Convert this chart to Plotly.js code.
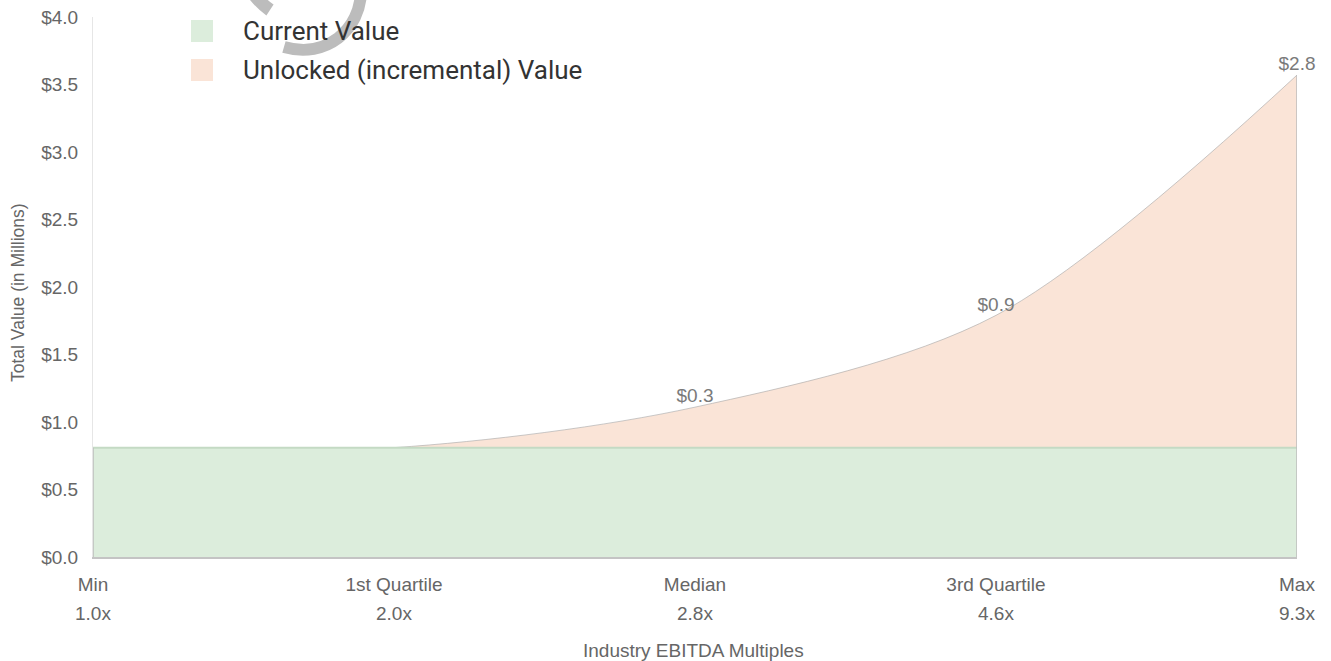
<!DOCTYPE html>
<html>
<head>
<meta charset="utf-8">
<script src="https://cdn.plot.ly/plotly-3.0.1.min.js"></script>
<style>
  html, body { margin: 0; padding: 0; background: #fff; }
  #chart { width: 1331px; height: 661px; }
</style>
</head>
<body>
<div id="chart"></div>
<script>
// ---- data ----
const categories = ['Min', '1st Quartile', 'Median', '3rd Quartile', 'Max'];
const multiples = ['1.0x', '2.0x', '2.8x', '4.6x', '9.3x'];
const currentValue = [0.81, 0.81, 0.81, 0.81, 0.81];
const unlockedValue = [0, 0, 0.30, 0.98, 2.76];
const unlockedLabels = ['', '', '$0.3', '$0.9', '$2.8'];
const seriesNames = ['Current Value', 'Unlocked (incremental) Value'];

// ---- styling ----
const greenFill = 'rgb(220,237,220)';
const orangeFill = 'rgb(250,228,215)';
const tickFont = 'Arial, "Liberation Sans", sans-serif';
const L = 93, R = 1297, T = 17, B = 557;
const px = x => (x - L) / (R - L);
const py = y => (B - y) / (B - T);

const total = currentValue.map((v, i) => v + unlockedValue[i]);
const last = categories.length - 1;

const traces = [
  // total (current + unlocked); the green current value is drawn over it
  {
    x: categories, y: total, name: seriesNames[1],
    type: 'scatter', mode: 'lines+text', fill: 'tozeroy',
    fillcolor: orangeFill,
    line: { color: 'rgba(170,170,170,0.8)', width: 0.8, shape: 'spline', smoothing: 0.9 },
    text: unlockedLabels, textposition: 'top center',
    textfont: { family: tickFont, size: 19, color: '#7a7a7a' },
    cliponaxis: false, hoverinfo: 'skip'
  },
  {
    x: categories, y: currentValue, name: seriesNames[0],
    type: 'scatter', mode: 'lines', fill: 'tozeroy',
    fillcolor: greenFill,
    line: { color: 'rgb(196,218,196)', width: 2, shape: 'linear' },
    hoverinfo: 'skip'
  },
  // edge lines of the filled areas, derived from data
  {
    x: [categories[0], categories[0]], y: [0, currentValue[0]],
    type: 'scatter', mode: 'lines', line: { color: '#bdbdbd', width: 1.5 },
    showlegend: false, hoverinfo: 'skip', cliponaxis: false
  },
  {
    x: [categories[last], categories[last]], y: [0, total[last]],
    type: 'scatter', mode: 'lines', line: { color: '#bdbdbd', width: 1.5 },
    showlegend: false, hoverinfo: 'skip', cliponaxis: false
  }
];

const annotations = [];
// second row of x tick labels (multiples)
categories.forEach((c, i) => {
  annotations.push({
    x: c, xref: 'x', y: py(613), yref: 'paper', yanchor: 'middle', xanchor: 'center',
    text: multiples[i], showarrow: false,
    font: { family: tickFont, size: 19, color: '#666' }
  });
});
// axis titles
annotations.push({
  x: px(693), xref: 'paper', y: py(650), yref: 'paper', yanchor: 'middle',
  text: 'Industry EBITDA Multiples', showarrow: false,
  font: { family: tickFont, size: 19, color: '#666' }
});
annotations.push({
  x: px(18), xref: 'paper', y: py(293), yref: 'paper', xanchor: 'center', yanchor: 'middle',
  text: 'Total Value (in Millions)', textangle: -90, showarrow: false,
  font: { family: tickFont, size: 17.5, color: '#666' }
});
// legend
const legendY = [31, 70];
const legendColors = [greenFill, orangeFill];
seriesNames.forEach((n, i) => {
  annotations.push({
    x: px(241), xref: 'paper', y: py(legendY[i]), yref: 'paper',
    xanchor: 'left', yanchor: 'middle', text: n, showarrow: false,
    font: { family: 'Roboto, sans-serif', size: 26, color: '#333' }
  });
});

const shapes = [];
// grey loading-spinner swoosh seen in the reference
const P = (x, y) => px(x).toFixed(4) + ',' + py(y).toFixed(4);
shapes.push({
  type: 'path', xref: 'paper', yref: 'paper', layer: 'above',
  path: 'M' + P(361, -10) + ' C' + P(361, 30) + ' ' + P(326, 59) + ' ' + P(284, 47),
  line: { color: '#bcbcbc', width: 12 }
});
shapes.push({
  type: 'path', xref: 'paper', yref: 'paper', layer: 'above',
  path: 'M' + P(270, 10) + ' C' + P(264, 6) + ' ' + P(258, 0) + ' ' + P(252, -8),
  line: { color: '#bcbcbc', width: 13 }
});
legendY.forEach((y, i) => {
  shapes.push({
    type: 'rect', xref: 'paper', yref: 'paper', layer: 'above',
    x0: px(191), x1: px(213), y0: py(y - 11), y1: py(y + 11),
    fillcolor: legendColors[i], line: { width: 0 }
  });
});

const layout = {
  width: 1331, height: 661,
  margin: { l: L, r: 1331 - R, t: T, b: 661 - B },
  paper_bgcolor: '#fff', plot_bgcolor: '#fff',
  showlegend: false,
  font: { family: tickFont, color: '#666' },
  xaxis: {
    type: 'category', categoryorder: 'array', categoryarray: categories,
    range: [0, last], showgrid: false, zeroline: false,
    showline: true, linecolor: '#c4c4c4', linewidth: 2,
    ticks: '', ticklabelstandoff: 9,
    tickfont: { family: tickFont, size: 19, color: '#666' }
  },
  yaxis: {
    range: [0, 4], dtick: 0.5, tickformat: '$.1f',
    showgrid: false, zeroline: false,
    showline: true, linecolor: '#e6e6e6', linewidth: 1,
    ticks: '', ticklabelstandoff: 10,
    tickfont: { family: tickFont, size: 19, color: '#666' }
  },
  annotations: annotations,
  shapes: shapes
};

Plotly.newPlot('chart', traces, layout, { displayModeBar: false, staticPlot: true });
</script>
</body>
</html>
